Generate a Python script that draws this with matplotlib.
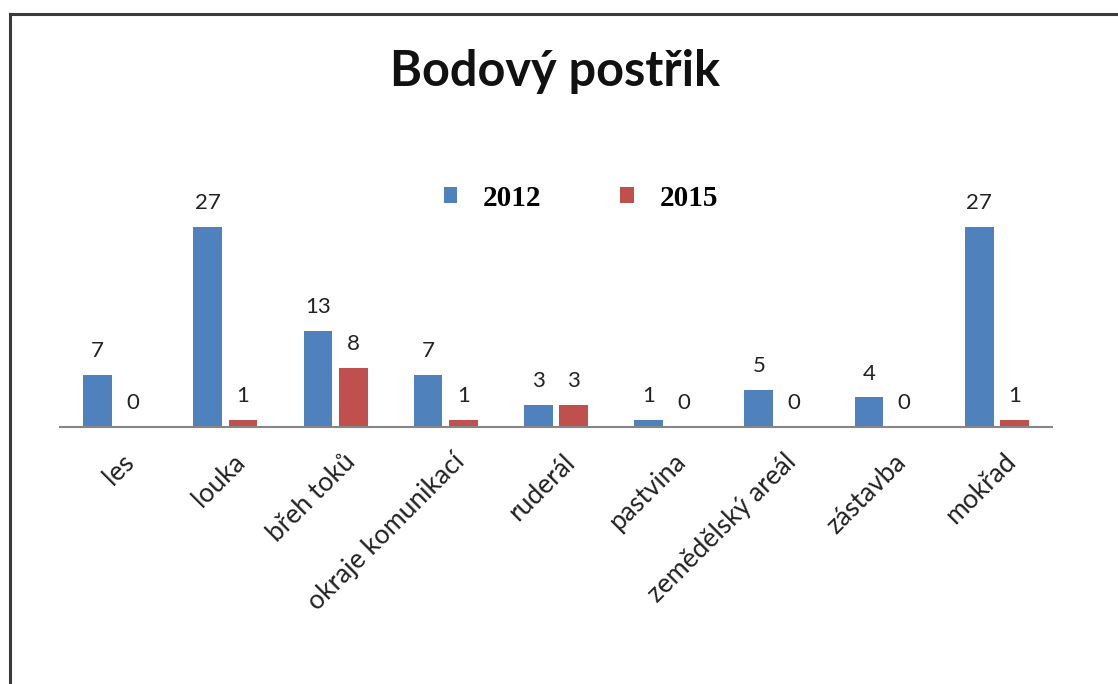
import matplotlib.pyplot as plt
import numpy as np
from matplotlib.lines import Line2D

# data
categories = ['les', 'louka', 'břeh toků', 'okraje komunikací', 'ruderál',
              'pastvina', 'zemědělský areál', 'zástavba', 'mokřad']
values_2012 = [7, 27, 13, 7, 3, 1, 5, 4, 27]
values_2015 = [0, 1, 8, 1, 3, 0, 0, 0, 1]
series_names = ['2012', '2015']
colors = ['#4F81BD', '#C0504D']

W, H = 1118, 684
fig = plt.figure(figsize=(W / 100, H / 100), dpi=100)
ax = fig.add_axes([60 / W, 1 - 427 / H, (1052 - 60) / W, (427 - 205) / H])

x = np.arange(len(categories))
width = 0.26
offset = 0.16
b1 = ax.bar(x - offset, values_2012, width, color=colors[0], label=series_names[0])
b2 = ax.bar(x + offset, values_2015, width, color=colors[1], label=series_names[1])

for bars in (b1, b2):
    for rect in bars:
        ax.annotate(f'{int(rect.get_height())}',
                    (rect.get_x() + rect.get_width() / 2, rect.get_height()),
                    xytext=(0, 10), textcoords='offset points',
                    ha='center', va='bottom', fontsize=16, family='Lato',
                    color='#222222')

ax.set_xlim(-0.5, len(categories) - 0.5)
ax.set_ylim(0, 30)
for s in ['top', 'right', 'left']:
    ax.spines[s].set_visible(False)
ax.spines['bottom'].set_color('#868686')
ax.spines['bottom'].set_linewidth(1.5)
ax.set_yticks([])
ax.set_xticks(x + 0.06)
ax.set_xticklabels(categories, rotation=45, ha='right', rotation_mode='anchor',
                   fontsize=19, family='Lato', color='#222222')
ax.tick_params(axis='x', length=0, pad=16)

fig.text(555 / W, 1 - 71 / H, 'Bodový postřik', ha='center', va='center',
         fontsize=35, fontweight='bold', family='Lato', color='#111111')

leg = fig.legend(handles=[b1, b2], labels=series_names, loc='center',
                 bbox_to_anchor=(581 / W, 1 - 198 / H), ncol=2, frameon=False,
                 prop={'family': 'Liberation Serif', 'weight': 'bold', 'size': 21},
                 handlelength=0.45, handleheight=0.45, handletextpad=0.9,
                 columnspacing=2.7)

# outer border (only top and left visible in the picture)
fig.add_artist(Line2D([9.5 / W, 9.5 / W], [0, 1 - 14 / H], transform=fig.transFigure,
                      color='#3a3a3a', linewidth=2.2))
fig.add_artist(Line2D([9.5 / W, 1], [1 - 14 / H, 1 - 14 / H], transform=fig.transFigure,
                      color='#3a3a3a', linewidth=2.2))

fig.savefig('out.png', dpi=100)
